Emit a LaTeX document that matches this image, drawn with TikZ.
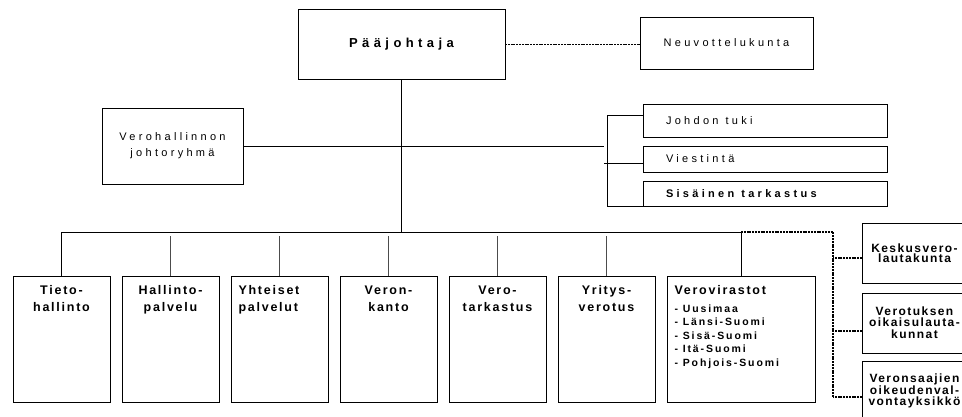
\documentclass[tikz,border=0pt]{standalone}
\usepackage{fontspec}
\setmainfont{Liberation Sans}
\newfontfamily\headfont[LetterSpace=34]{Liberation Sans}
\newfontfamily\upfont[LetterSpace=30]{Liberation Sans}
\newfontfamily\unitfont[LetterSpace=14]{Liberation Sans}
\newfontfamily\listfont[LetterSpace=18]{Liberation Sans}
\newfontfamily\boardfont[LetterSpace=12]{Liberation Sans}
\newcommand\wgap{\hspace*{7pt}}
\usetikzlibrary{positioning}

\begin{document}
\begin{tikzpicture}[x=1pt,y=-1pt,line width=1pt,
    box/.style={draw,inner sep=0pt,outer sep=0pt},
    upper/.style={box,font=\upfont\fontsize{11}{16}\selectfont},
    staff/.style={upper,minimum width=244pt,text width=198pt,inner xsep=23pt,align=left},
    unit/.style={box,minimum width=97pt,minimum height=126.5pt},
    title/.style={anchor=north,inner sep=0pt,yshift=-9pt,align=center,
      font=\unitfont\bfseries\fontsize{12.5}{17}\selectfont},
    board/.style={box,minimum width=105pt,minimum height=60pt,align=center,
      font=\boardfont\bfseries\fontsize{12}{10.5}\selectfont},
    drop/.style={line width=0.8pt,gray!60!black},
    dots/.style={line width=1.3pt,dash pattern=on 2pt off 0.8pt}]
    \useasboundingbox (0,0) rectangle (962,416);
    \clip (0,0) rectangle (962,416);

    \node[box,minimum width=207pt,minimum height=70pt,
      font=\headfont\bfseries\fontsize{13}{16}\selectfont] (paa) at (401.5,44.5) {Pääjohtaja};
    \node[upper,minimum width=173pt,minimum height=52pt] (neuvo) at (726.5,43) {Neuvottelukunta};
    \node[upper,minimum width=141pt,minimum height=76pt,align=center] (johto) at (172.5,146) {Verohallinnon\\johtoryhmä};

    \node[staff,minimum height=33pt] (tuki) at (765,120.5) {Johdon\wgap tuki};
    \node[staff,minimum height=26pt,below=9pt of tuki] (viest) {Viestintä};
    \node[staff,minimum height=24.5pt,below=9.5pt of viest,font=\upfont\bfseries\fontsize{11}{16}\selectfont] (sisa) {Sisäinen\wgap tarkastus};

    \node[unit,label={[title]north:{Tieto-\\hallinto}}] (tieto) at (61.5,339.5) {};
    \node[unit,right=12pt of tieto,label={[title]north:{Hallinto-\\palvelu}}] (hall) {};
    \node[unit,right=12pt of hall,label={[title,anchor=north west,xshift=7pt,align=left]north west:{Yhteiset\\palvelut}}] (yht) {};
    \node[unit,right=12pt of yht,label={[title]north:{Veron-\\kanto}}] (veron) {};
    \node[unit,right=12pt of veron,label={[title]north:{Vero-\\tarkastus}}] (vtark) {};
    \node[unit,right=12pt of vtark,label={[title]north:{Yritys-\\verotus}}] (yrit) {};
    \node[unit,minimum width=148pt,right=12pt of yrit,
      label={[title,anchor=north west,xshift=7pt,align=left,font=\listfont\bfseries\fontsize{10.5}{13.5}\selectfont]north west:{%
        {\unitfont\bfseries\fontsize{12.5}{17}\selectfont Verovirastot}\\[4pt]
        - Uusimaa\\- Länsi-Suomi\\- Sisä-Suomi\\- Itä-Suomi\\- Pohjois-Suomi}}] (vvir) {};

    \node[board] (kesk) at (914.5,253) {Keskusvero-\\lautakunta};
    \node[board,below=10pt of kesk] (oik) {Verotuksen\\oikaisulauta-\\[2pt]kunnat};
    \node[board,below=8pt of oik] (ovy) {Veronsaajien\\oikeudenval-\\vontayksikkö};

    \coordinate (bus) at (401.5,232);
    \coordinate (brmid) at (604,146);
    \coordinate (brtop) at (607,115);
    \coordinate (vimid) at (604,163);
    \coordinate (dtop) at (833,232);
    \coordinate (dbot) at (833,397);

    \draw[dots] (paa.east) -- (paa.east -| neuvo.west);
    \draw (paa.south) -- (bus);
    \draw (johto.east) -- (brmid);
    \draw (tuki.west |- brtop) -- (brtop) |- (sisa.south west);
    \draw (vimid) -- (viest.west |- vimid);

    \draw (tieto.north) |- (vvir.north |- bus) -- (vvir.north);
    \foreach \n in {hall,yht,veron,vtark,yrit}
      \draw[drop] (\n.north) -- ++(0,-40);

    \draw[dots] (vvir.north |- bus) -- (dtop) -- (dbot);
    \draw[dots] ([yshift=-5pt]kesk.west) -- ([yshift=-5pt]kesk.west -| dtop);
    \draw[dots] ([yshift=-8pt]oik.west) -- ([yshift=-8pt]oik.west -| dtop);
    \draw[dots] (ovy.west |- dbot) -- (dbot);
\end{tikzpicture}
\end{document}
